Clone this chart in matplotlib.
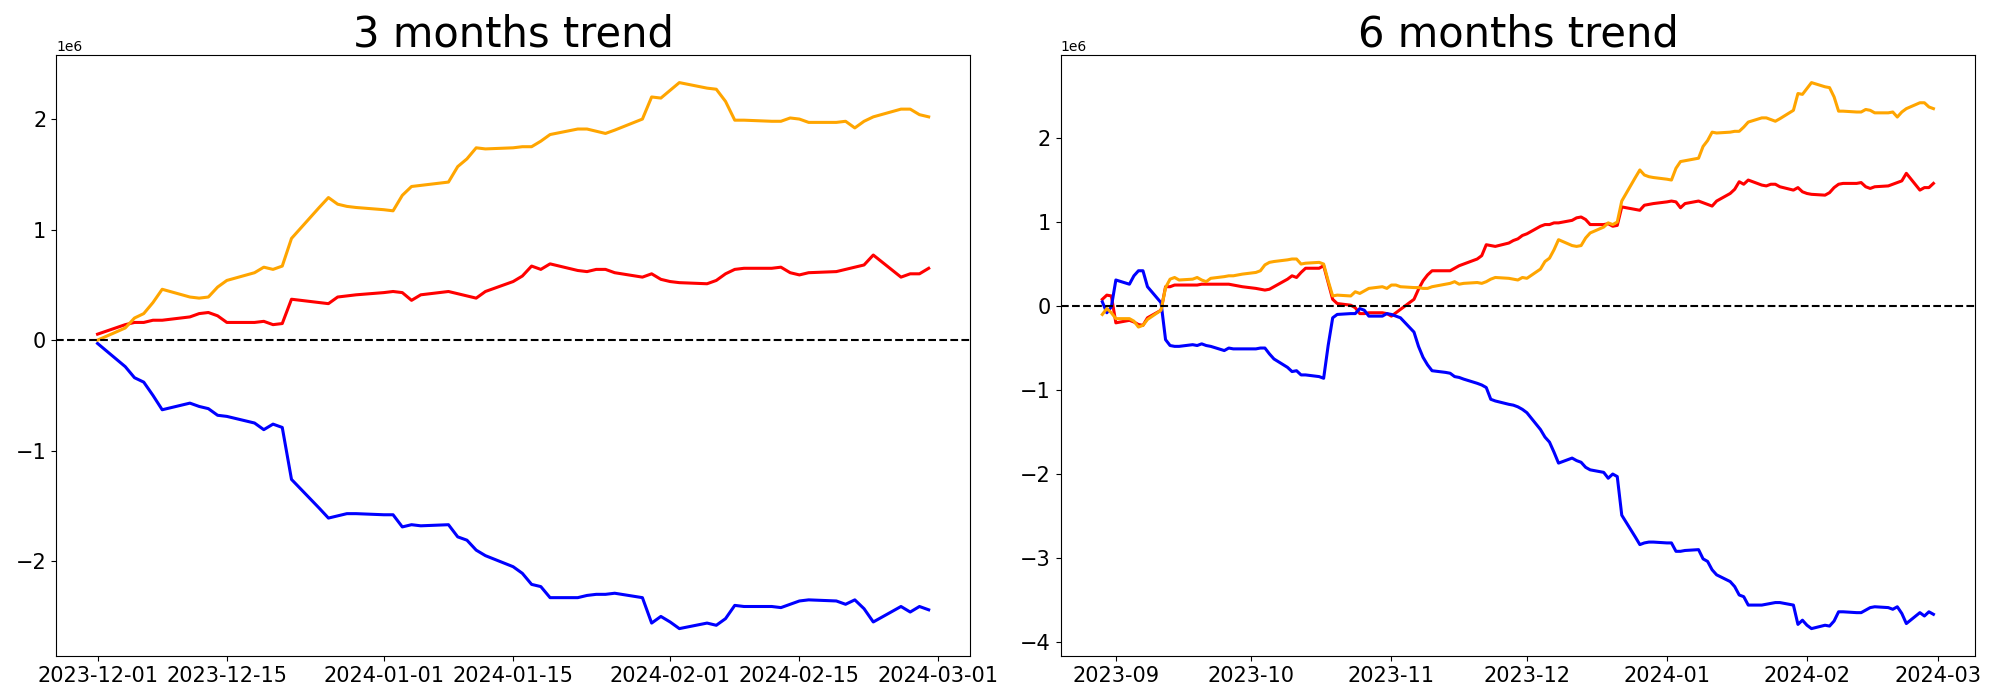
import matplotlib
matplotlib.use("Agg")
from matplotlib import pyplot as plt
import numpy as np
import pandas as pd

# values in millions, one per business day

# 3 months window
dates_3m = pd.bdate_range("2023-12-01", "2024-02-29")

red_3m = [0.054, 0.14, 0.16, 0.16, 0.18, 0.18, 0.21, 0.24, 0.25, 0.22, 0.16, 0.16, 0.17, 0.14, 0.15, 0.37, 0.34, 0.33, 0.39, 0.40, 0.41,
          0.43, 0.44, 0.43, 0.36, 0.41, 0.44, 0.42, 0.40, 0.38, 0.44, 0.53, 0.58, 0.67, 0.64, 0.69, 0.63, 0.62, 0.64, 0.64, 0.61, 0.57, 0.60, 0.55,
          0.53, 0.52, 0.51, 0.54, 0.60, 0.64, 0.65, 0.65, 0.66, 0.61, 0.59, 0.61, 0.62, 0.64, 0.66, 0.68, 0.77, 0.57, 0.60, 0.60, 0.65]
orange_3m = [0.00, 0.11, 0.20, 0.24, 0.34, 0.46, 0.39, 0.38, 0.39, 0.48, 0.54, 0.61, 0.66, 0.64, 0.67, 0.92, 1.20, 1.29, 1.23, 1.21, 1.20,
             1.18, 1.17, 1.31, 1.39, 1.40, 1.43, 1.57, 1.64, 1.74, 1.73, 1.74, 1.75, 1.75, 1.80, 1.86, 1.91, 1.91, 1.89, 1.87, 1.90, 2.00, 2.20, 2.19,
             2.26, 2.33, 2.28, 2.27, 2.16, 1.99, 1.99, 1.98, 1.98, 2.01, 2.00, 1.97, 1.97, 1.98, 1.92, 1.98, 2.02, 2.09, 2.09, 2.04, 2.02]
blue_3m = [-0.03, -0.24, -0.34, -0.38, -0.50, -0.63, -0.57, -0.60, -0.62, -0.68, -0.69, -0.75, -0.81, -0.76, -0.79, -1.26, -1.52, -1.61, -1.59, -1.57, -1.57,
           -1.58, -1.58, -1.69, -1.67, -1.68, -1.67, -1.78, -1.81, -1.90, -1.95, -2.05, -2.11, -2.21, -2.23, -2.33, -2.33, -2.31, -2.30, -2.30, -2.29, -2.33, -2.56, -2.50,
           -2.55, -2.61, -2.56, -2.58, -2.52, -2.40, -2.41, -2.41, -2.42, -2.39, -2.36, -2.35, -2.36, -2.39, -2.35, -2.43, -2.55, -2.41, -2.46, -2.41, -2.44]

# 6 months window
dates_6m = pd.bdate_range("2023-08-29", "2024-02-29")

red_6m = [0.08, 0.13, 0.12,
          -0.20, -0.17, -0.19, -0.22, -0.23, -0.14, -0.05, 0.23, 0.23, 0.25, 0.25, 0.25, 0.25, 0.26, 0.26, 0.26, 0.26, 0.26, 0.25, 0.24, 0.23,
          0.21, 0.20, 0.19, 0.20, 0.23, 0.32, 0.36, 0.34, 0.40, 0.45, 0.45, 0.48, 0.28, 0.08, 0.03, 0.01, -0.02, -0.09, -0.09, -0.08, -0.08, -0.09,
          -0.12, -0.08, -0.04, 0.08, 0.20, 0.30, 0.37, 0.42, 0.42, 0.42, 0.45, 0.48, 0.50, 0.56, 0.60, 0.73, 0.72, 0.71, 0.75, 0.78, 0.80, 0.84,
          0.86, 0.95, 0.97, 0.97, 0.99, 0.99, 1.02, 1.05, 1.06, 1.03, 0.97, 0.97, 0.98, 0.95, 0.96, 1.18, 1.15, 1.14, 1.20, 1.21, 1.22,
          1.24, 1.25, 1.24, 1.17, 1.22, 1.25, 1.23, 1.21, 1.19, 1.25, 1.34, 1.39, 1.48, 1.45, 1.50, 1.44, 1.43, 1.45, 1.45, 1.42, 1.38, 1.41, 1.36,
          1.34, 1.33, 1.32, 1.35, 1.41, 1.45, 1.46, 1.46, 1.47, 1.42, 1.40, 1.42, 1.43, 1.45, 1.47, 1.49, 1.58, 1.38, 1.41, 1.41, 1.46]
orange_6m = [-0.10, -0.03, -0.08,
             -0.15, -0.15, -0.18, -0.25, -0.23, -0.16, -0.05, 0.22, 0.32, 0.34, 0.31, 0.32, 0.34, 0.31, 0.29, 0.33, 0.35, 0.36, 0.36, 0.37, 0.38,
             0.40, 0.42, 0.49, 0.52, 0.53, 0.55, 0.56, 0.56, 0.50, 0.51, 0.52, 0.50, 0.30, 0.12, 0.13, 0.12, 0.17, 0.15, 0.18, 0.21, 0.23, 0.21,
             0.25, 0.25, 0.23, 0.22, 0.22, 0.21, 0.21, 0.23, 0.26, 0.27, 0.29, 0.26, 0.27, 0.28, 0.27, 0.29, 0.32, 0.34, 0.33, 0.32, 0.31, 0.34,
             0.33, 0.44, 0.53, 0.57, 0.67, 0.79, 0.72, 0.71, 0.72, 0.81, 0.87, 0.94, 0.99, 0.97, 1.00, 1.25, 1.53, 1.62, 1.56, 1.54, 1.53,
             1.51, 1.50, 1.64, 1.72, 1.73, 1.76, 1.90, 1.97, 2.07, 2.06, 2.07, 2.08, 2.08, 2.13, 2.19, 2.24, 2.24, 2.22, 2.20, 2.23, 2.33, 2.53, 2.52,
             2.59, 2.66, 2.61, 2.60, 2.49, 2.32, 2.32, 2.31, 2.31, 2.34, 2.33, 2.30, 2.30, 2.31, 2.25, 2.31, 2.35, 2.42, 2.42, 2.37, 2.35]
blue_6m = [0.05, -0.08, -0.01,
           0.31, 0.26, 0.36, 0.42, 0.42, 0.23, 0.04, -0.40, -0.47, -0.48, -0.48, -0.46, -0.47, -0.45, -0.47, -0.48, -0.53, -0.50, -0.51, -0.51, -0.51,
           -0.51, -0.50, -0.50, -0.57, -0.63, -0.73, -0.78, -0.77, -0.82, -0.82, -0.84, -0.86, -0.47, -0.14, -0.10, -0.09, -0.09, -0.03, -0.05, -0.12, -0.12, -0.09,
           -0.10, -0.12, -0.14, -0.31, -0.48, -0.61, -0.70, -0.77, -0.79, -0.80, -0.84, -0.85, -0.87, -0.92, -0.94, -0.97, -1.11, -1.13, -1.17, -1.18, -1.20, -1.23,
           -1.27, -1.47, -1.56, -1.62, -1.74, -1.87, -1.81, -1.84, -1.86, -1.92, -1.95, -1.98, -2.05, -2.00, -2.03, -2.49, -2.75, -2.84, -2.82, -2.81, -2.81,
           -2.82, -2.82, -2.92, -2.92, -2.91, -2.90, -3.01, -3.04, -3.14, -3.20, -3.28, -3.34, -3.44, -3.46, -3.56, -3.56, -3.55, -3.54, -3.53, -3.53, -3.56, -3.79, -3.74,
           -3.80, -3.84, -3.80, -3.81, -3.75, -3.64, -3.64, -3.65, -3.65, -3.62, -3.59, -3.58, -3.59, -3.61, -3.58, -3.66, -3.78, -3.65, -3.69, -3.64, -3.67]

titles = ["3 months trend", "6 months trend"]

fig, axes = plt.subplots(1, 2, figsize=(20, 7), dpi=100)
fig.subplots_adjust(left=0.028, right=0.9875, top=0.921, bottom=0.063, wspace=0.099)

panels = [(dates_3m, red_3m, orange_3m, blue_3m),
          (dates_6m, red_6m, orange_6m, blue_6m)]

for ax, title, (d, r, o, b) in zip(axes, titles, panels):
    ax.plot(d, np.array(r) * 1e6, color="red", linewidth=2.2)
    ax.plot(d, np.array(b) * 1e6, color="blue", linewidth=2.2)
    ax.plot(d, np.array(o) * 1e6, color="orange", linewidth=2.2)
    ax.axhline(0, color="black", linestyle="--", linewidth=1.5)
    ax.set_title(title, fontsize=30)
    ax.tick_params(labelsize=15)

fig.savefig("out.png")
